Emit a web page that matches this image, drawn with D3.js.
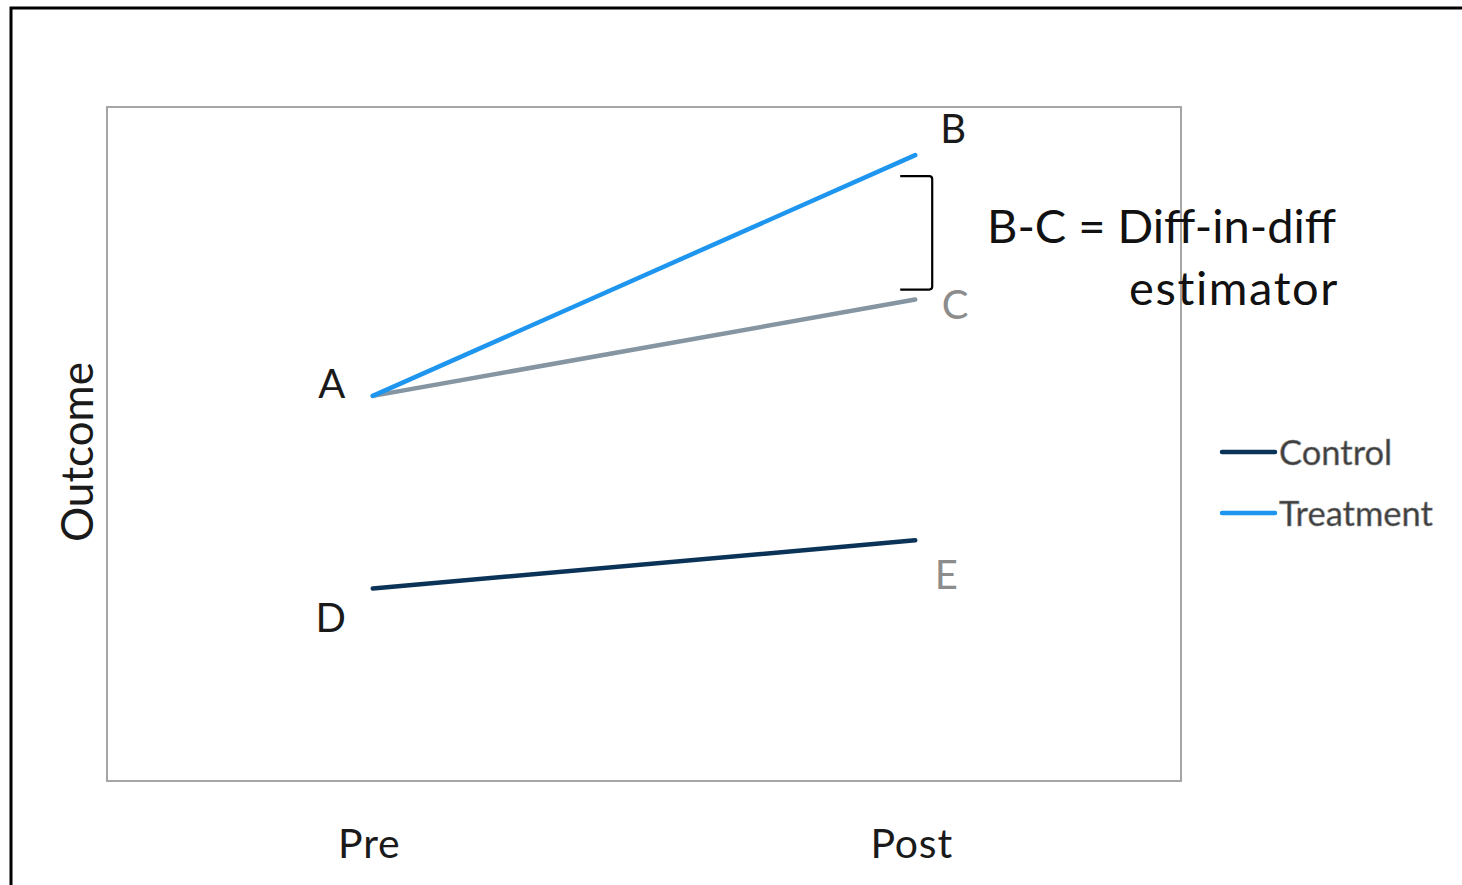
<!DOCTYPE html>
<html>
<head>
<meta charset="utf-8">
<script src="https://cdn.jsdelivr.net/npm/d3@7"></script>
<style>
  html, body { margin: 0; padding: 0; background: #fff; }
  svg { display: block; font-family: Lato, "Open Sans", sans-serif; }
</style>
</head>
<body>
<svg id="chart" width="1462" height="885"></svg>
<script>
// Difference-in-differences illustration: two periods, three paths
const periods = ["Pre", "Post"];
const treatment = [8, 13];        // A -> B
const counterfactual = [8, 10];   // A -> C
const control = [4, 5];           // D -> E
const yDomain = [0, 14];

const svg = d3.select("#chart");
const plot = { left: 107, top: 107, right: 1181, bottom: 781 };

const x = d3.scalePoint().domain(periods).range([plot.left, plot.right]).padding(0.49);
const y = d3.scaleLinear().domain(yDomain).range([plot.bottom, plot.top]);

// outer frame
svg.append("rect")
  .attr("x", 11).attr("y", 8).attr("width", 1600).attr("height", 1000)
  .attr("fill", "none").attr("stroke", "#000").attr("stroke-width", 3);

// plot area border
svg.append("rect")
  .attr("x", plot.left).attr("y", plot.top)
  .attr("width", plot.right - plot.left).attr("height", plot.bottom - plot.top)
  .attr("fill", "none").attr("stroke", "#a6a6a6").attr("stroke-width", 2);

// category axis (labels only)
const xAxis = svg.append("g")
  .attr("transform", `translate(0,${plot.bottom})`)
  .call(d3.axisBottom(x).tickSize(0).tickPadding(0));
xAxis.select(".domain").remove();
xAxis.selectAll("text")
  .attr("dy", null).attr("y", 77).attr("x", -4)
  .attr("font-family", "Lato, 'Open Sans', sans-serif")
  .attr("font-size", 41).attr("letter-spacing", 0.8).attr("fill", "#1a1a1a");

// y-axis title
svg.append("text")
  .attr("transform", `translate(93,452) rotate(-90)`)
  .attr("text-anchor", "middle")
  .attr("font-size", 44).attr("fill", "#1a1a1a")
  .text("Outcome");

const line = d3.line().x((d, i) => x(periods[i])).y(d => y(d));

const series = [
  { name: "Counterfactual", values: counterfactual, color: "#8595a2" },
  { name: "Treatment", values: treatment, color: "#1e96f0" },
  { name: "Control", values: control, color: "#0b3358" }
];

svg.selectAll("path.series")
  .data(series)
  .join("path")
  .attr("class", "series")
  .attr("d", d => line(d.values))
  .attr("fill", "none")
  .attr("stroke", d => d.color)
  .attr("stroke-width", 4.5)
  .attr("stroke-linecap", "round");

// point labels
const pointLabels = [
  { t: "A", i: 0, v: treatment[0], dx: -41, dy: -13, c: "#1a1a1a" },
  { t: "B", i: 1, v: treatment[1], dx: 38, dy: -27, c: "#1a1a1a" },
  { t: "C", i: 1, v: counterfactual[1], dx: 40, dy: 4, c: "#8c8c8c" },
  { t: "D", i: 0, v: control[0], dx: -42, dy: 29, c: "#1a1a1a" },
  { t: "E", i: 1, v: control[1], dx: 31, dy: 34, c: "#8c8c8c" }
];
svg.selectAll("text.pt")
  .data(pointLabels)
  .join("text")
  .attr("class", "pt")
  .attr("x", d => x(periods[d.i]) + d.dx)
  .attr("y", d => y(d.v) + d.dy)
  .attr("text-anchor", "middle")
  .attr("dominant-baseline", "central")
  .attr("font-size", 40)
  .attr("fill", d => d.c)
  .text(d => d.t);

// bracket spanning B..C
const bx = x("Post");
const bTop = y(treatment[1]) + 21;
const bBot = y(counterfactual[1]) - 10;
const bRight = bx + 17;
svg.append("path")
  .attr("d", `M${bx - 15},${bTop} L${bRight - 3},${bTop} Q${bRight},${bTop} ${bRight},${bTop + 3}
              L${bRight},${bBot - 3} Q${bRight},${bBot} ${bRight - 3},${bBot} L${bx - 15},${bBot}`)
  .attr("fill", "none").attr("stroke", "#000").attr("stroke-width", 2.2);

// estimator annotation
svg.append("text")
  .attr("x", 987).attr("y", 243)
  .attr("font-size", 47).attr("fill", "#111")
  .text("B-C = Diff-in-diff");
svg.append("text")
  .attr("x", 1339).attr("y", 305)
  .attr("text-anchor", "end")
  .attr("font-size", 47).attr("letter-spacing", 1.6).attr("fill", "#111")
  .text("estimator");

// legend
const legend = [
  { name: "Control", color: "#0b3358" },
  { name: "Treatment", color: "#1e96f0" }
];
const lg = svg.append("g").selectAll("g").data(legend).join("g")
  .attr("transform", (d, i) => `translate(1222,${452 + i * 61})`);
lg.append("line")
  .attr("x1", 0).attr("x2", 53).attr("y1", 0).attr("y2", 0)
  .attr("stroke", d => d.color).attr("stroke-width", 4.5).attr("stroke-linecap", "round");
lg.append("text")
  .attr("x", 57).attr("y", -1)
  .attr("dominant-baseline", "central")
  .attr("font-size", 34.5).attr("fill", "#3d3d3d")
  .attr("stroke", "#8a8a8a").attr("stroke-width", 0.6)
  .text(d => d.name);
</script>
</body>
</html>
